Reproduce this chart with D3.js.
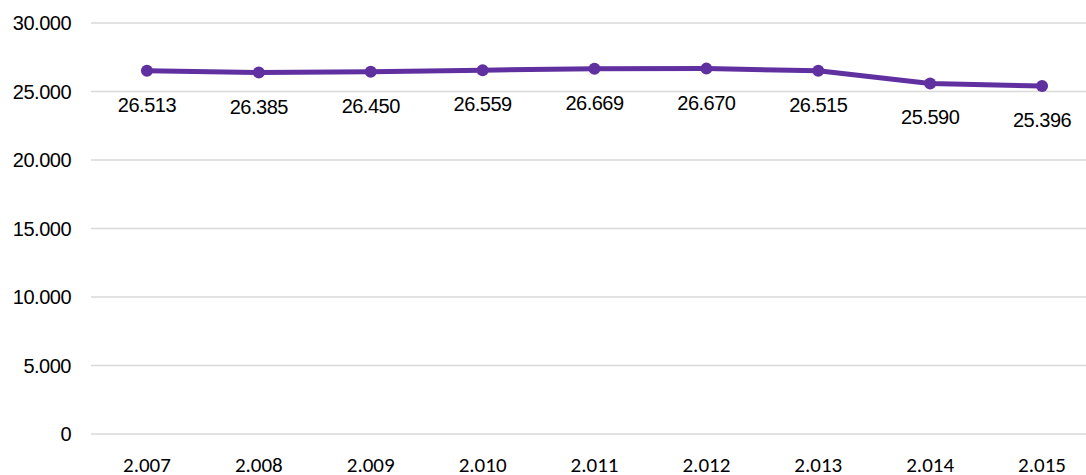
<!DOCTYPE html>
<html>
<head>
<meta charset="utf-8">
<script src="https://cdn.jsdelivr.net/npm/d3@7"></script>
<style>
  body { margin: 0; background: #fff; }
</style>
</head>
<body>
<div id="chart"></div>
<script>
// chart values
const years = ["2.007", "2.008", "2.009", "2.010", "2.011", "2.012", "2.013", "2.014", "2.015"];
const values = [26513, 26385, 26450, 26559, 26669, 26670, 26515, 25590, 25396];
const yTicks = [0, 5000, 10000, 15000, 20000, 25000, 30000];

const margin = {top: 23, right: 0, bottom: 41, left: 91},
    width = 1086 - margin.left - margin.right,
    height = 475 - margin.top - margin.bottom;

const svg = d3.select("#chart")
    .append("svg")
    .attr("width", 1086)
    .attr("height", 475);

const g = svg.append("g")
    .attr("transform", "translate(" + margin.left + "," + margin.top + ")");

// categories run a little past the right edge, as in the original
const x = d3.scaleBand().domain(years).range([0, 1007]);
const y = d3.scaleLinear().domain([0, 30000]).range([height, 0]);

const fmt = v => d3.format(",")(v).replace(/,/g, ".");
const cx = d => x(d) + x.bandwidth() / 2;

// gridlines
g.selectAll(".grid")
    .data(yTicks)
    .enter().append("line")
    .attr("x1", 0)
    .attr("x2", width)
    .attr("y1", d => y(d))
    .attr("y2", d => y(d))
    .attr("stroke", "#d9d9d9")
    .attr("stroke-width", 1.5);

// y labels
g.selectAll(".ylab")
    .data(yTicks)
    .enter().append("text")
    .attr("x", -20)
    .attr("y", d => y(d))
    .attr("dy", "0.35em")
    .attr("text-anchor", "end")
    .style("font-family", "'Liberation Sans', Arial, sans-serif")
    .style("font-size", "20px")
    .style("letter-spacing", "-0.5px")
    .attr("fill", "#000")
    .text(d => fmt(d));

// x labels
g.selectAll(".xlab")
    .data(years)
    .enter().append("text")
    .attr("x", d => cx(d))
    .attr("y", height + 38)
    .attr("text-anchor", "middle")
    .style("font-family", "Carlito, Lato, 'Open Sans', sans-serif")
    .style("font-size", "21px")
    .attr("fill", "#000")
    .text(d => d);

const pts = years.map((yr, i) => ({yr: yr, v: values[i]}));

const line = d3.line()
    .x(d => cx(d.yr))
    .y(d => y(d.v));

g.append("path")
    .datum(pts)
    .attr("d", line)
    .attr("fill", "none")
    .attr("stroke", "#6130a0")
    .attr("stroke-width", 5)
    .attr("stroke-linejoin", "round");

g.selectAll(".dot")
    .data(pts)
    .enter().append("circle")
    .attr("cx", d => cx(d.yr))
    .attr("cy", d => y(d.v))
    .attr("r", 6)
    .attr("fill", "#6130a0");

// data labels
g.selectAll(".vlab")
    .data(pts)
    .enter().append("text")
    .attr("x", d => cx(d.yr))
    .attr("y", d => y(d.v) + 34)
    .attr("dy", "0.35em")
    .attr("text-anchor", "middle")
    .style("font-family", "'Liberation Sans', Arial, sans-serif")
    .style("font-size", "20px")
    .style("letter-spacing", "-0.5px")
    .attr("fill", "#000")
    .text(d => fmt(d.v));
</script>
</body>
</html>
